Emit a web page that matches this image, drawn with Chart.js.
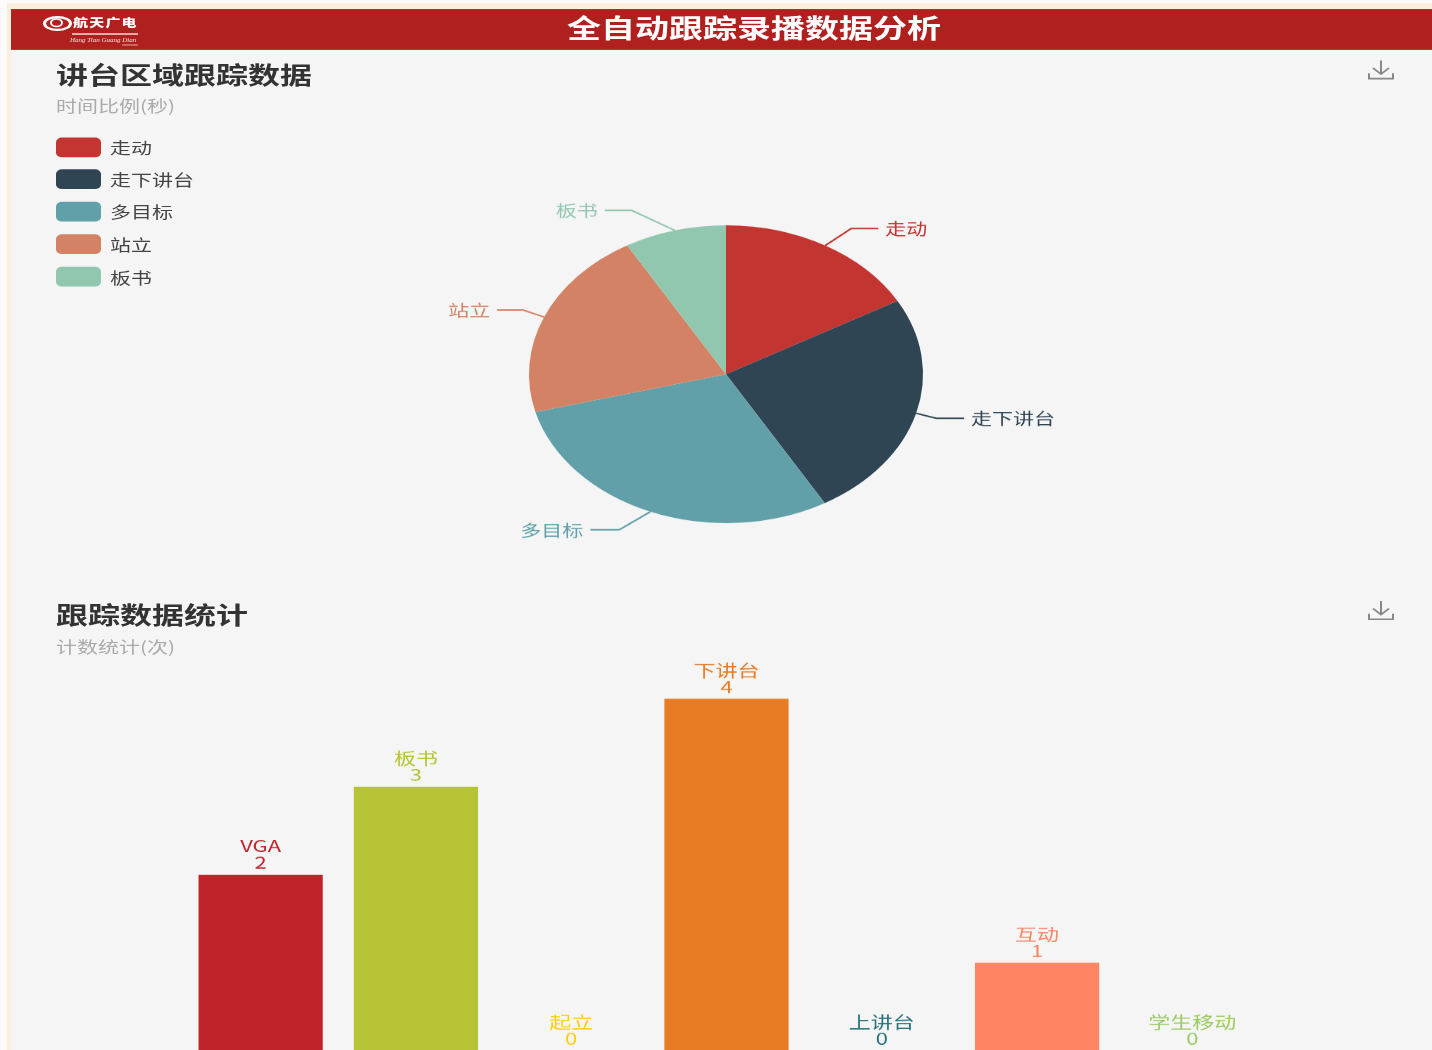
<!DOCTYPE html>
<html lang="zh">
<head>
<meta charset="utf-8">
<script src="https://cdn.jsdelivr.net/npm/chart.js@4"></script>
<style>
html,body{margin:0;padding:0;width:1432px;height:1050px;overflow:hidden;background:#fdfbf9}
#edgeTop{position:absolute;left:7px;top:3px;width:1425px;height:7px;background:#fbeedd}
#edgeLeft{position:absolute;left:7px;top:3px;width:4px;height:1047px;background:#fbeedd}
#panel{position:absolute;left:11px;top:50px;width:1421px;height:1000px;background:#f5f5f5}
#stage{position:absolute;left:0;top:0;width:1432px;height:1389px;overflow:hidden;transform-origin:0 0;transform:scale(1,.756);filter:blur(.55px);
font-family:"Noto Sans CJK SC","Noto Sans",sans-serif}
#header{position:absolute;left:11px;top:12px;width:1421px;height:54px;background:#b0201f}
#headTitle{position:absolute;left:0;top:-1px;width:1486px;text-align:center;color:#fff;font-weight:700;font-size:34px;line-height:50px;white-space:nowrap}
#logoName{position:absolute;left:62px;top:6px;color:#fff;font-weight:900;font-size:15px;letter-spacing:1.2px;line-height:24px}
#logoOval{position:absolute;left:32px;top:9px;width:23px;height:14px;border:3px solid #fff;border-radius:50%}
#logoDot{position:absolute;left:39px;top:12px;width:9px;height:8px;border:2px solid #fff;border-radius:50%}
#logoRule{position:absolute;left:61px;top:32px;width:66px;height:2px;background:#f4d9d0}
#logoRule2{position:absolute;left:111px;top:47px;width:16px;height:1px;background:#f4d9d0}
#logoSub{position:absolute;left:59px;top:33px;color:#f6e3de;font:italic 7px "Liberation Serif",serif;line-height:16px;white-space:nowrap}
.title{position:absolute;left:56px;color:#333;font-weight:700;font-size:32px;line-height:40px;white-space:nowrap}
.sub{position:absolute;left:56px;color:#aaa;font-size:21px;line-height:28px;white-space:nowrap}
.dl{position:absolute;left:1368px;width:26px;height:28px}
canvas{position:absolute;left:0}
.lg{position:absolute;left:56px;height:26px;width:220px}
.lg i{position:absolute;left:0;top:0;width:45px;height:26px;border-radius:6px}
.lg span{position:absolute;left:54px;top:0;line-height:26px;font-size:21px;color:#444;white-space:nowrap}
</style>
</head>
<body>
<div id="edgeTop"></div><div id="edgeLeft"></div><div id="panel"></div>
<div id="stage">
  <div id="header">
    <div id="logoOval"></div><div id="logoDot"></div>
    <div id="logoName">航天广电</div>
    <div id="logoRule"></div><div id="logoRule2"></div>
    <div id="logoSub">Hang Tian Guang Dian</div>
    <div id="headTitle">全自动跟踪录播数据分析</div>
  </div>
  <div class="title" style="top:77px">讲台区域跟踪数据</div>
  <div class="sub" style="top:125px">时间比例(秒)</div>
  <svg class="dl" style="top:78px" viewBox="0 0 26 28" fill="none" stroke="#888" stroke-width="2"><path d="M13 2V20M5 12l8 8 8-8M1 19v7h24v-7"/></svg>
  <div class="title" style="top:791px">跟踪数据统计</div>
  <div class="sub" style="top:841px">计数统计(次)</div>
  <svg class="dl" style="top:793px" viewBox="0 0 26 28" fill="none" stroke="#888" stroke-width="2"><path d="M13 2V20M5 12l8 8 8-8M1 19v7h24v-7"/></svg>
  <div id="legend"></div>
  <canvas id="pie" width="1432" height="760" style="top:0;width:1432px;height:760px"></canvas>
  <canvas id="bar" width="1432" height="640" style="top:760px;width:1432px;height:640px"></canvas>
</div>
<script>
// data
const pieLabels = ["走动","走下讲台","多目标","站立","板书"];
const pieValues = [60.5,89.4,105.4,74.6,30.1];
const pieColors = ["#c23531","#2f4554","#61a0a8","#d48265","#91c7ae"];
const barLabels = ["VGA","板书","起立","下讲台","上讲台","互动","学生移动"];
const barValues = [2,3,0,4,0,1,0];
const barColors = ["#C1232B","#B5C334","#FCCE10","#E87C25","#27727B","#FE8463","#9BCA63"];
// leader-line styling: bend offset from the slice edge and run length, in picture pixels
const leaderBend = [[26,-17],[20,5],[-31,18],[-21,-7],[-43,-20]];
const leaderRun = [27,28,29,26,27];
const SY = 0.756, FONT = '"Noto Sans CJK SC","Noto Sans",sans-serif';

// legend
const legendTops = [182,224,267,310,353];
document.getElementById('legend').innerHTML = pieLabels.map((l,i)=>
  `<div class="lg" style="top:${legendTops[i]}px"><i style="background:${pieColors[i]}"></i><span>${l}</span></div>`).join('');

const pieLeaders = {
  id:'pieLeaders',
  afterDatasetsDraw(chart){
    const ctx = chart.ctx, arcs = chart.getDatasetMeta(0).data;
    arcs.forEach((a,i)=>{
      const mid = (a.startAngle+a.endAngle)/2;
      const x0 = a.x + a.outerRadius*Math.cos(mid), y0 = a.y + a.outerRadius*Math.sin(mid);
      const x1 = x0 + leaderBend[i][0], y1 = y0 + leaderBend[i][1]/SY;
      const dir = Math.sign(leaderBend[i][0]);
      const x2 = x1 + dir*leaderRun[i];
      ctx.save();
      ctx.strokeStyle = pieColors[i]; ctx.lineWidth = 2;
      ctx.beginPath(); ctx.moveTo(x0,y0); ctx.lineTo(x1,y1); ctx.lineTo(x2,y1); ctx.stroke();
      ctx.fillStyle = pieColors[i]; ctx.font = '21px '+FONT;
      ctx.textAlign = dir>0?'left':'right'; ctx.textBaseline='middle';
      ctx.fillText(pieLabels[i], x2+dir*7, y1);
      ctx.restore();
    });
  }
};
new Chart(document.getElementById('pie'),{
  type:'pie',
  data:{labels:pieLabels,datasets:[{data:pieValues,backgroundColor:pieColors,borderWidth:0}]},
  options:{responsive:false,animation:false,
    layout:{padding:{left:529,right:509,top:298,bottom:68}},
    plugins:{legend:{display:false},tooltip:{enabled:false},title:{display:false}}},
  plugins:[pieLeaders]
});

const barTags = {
  id:'barTags',
  afterDatasetsDraw(chart){
    const ctx = chart.ctx, bars = chart.getDatasetMeta(0).data;
    bars.forEach((b,i)=>{
      ctx.save();
      ctx.fillStyle = barColors[i]; ctx.textAlign='center'; ctx.textBaseline='middle';
      ctx.font = '22px '+FONT;
      ctx.fillText(barLabels[i], b.x, b.y-38);
      ctx.fillText(String(barValues[i]), b.x, b.y-16);
      ctx.restore();
    });
  }
};
new Chart(document.getElementById('bar'),{
  type:'bar',
  data:{labels:barLabels,datasets:[{data:barValues,backgroundColor:barColors,borderWidth:0,barPercentage:.8,categoryPercentage:1}]},
  options:{responsive:false,animation:false,
    layout:{padding:{left:183,right:162,top:106,bottom:10}},
    scales:{x:{display:false},y:{display:false,min:0,max:4.5}},
    plugins:{legend:{display:false},tooltip:{enabled:false},title:{display:false}}},
  plugins:[barTags]
});
</script>
</body>
</html>
